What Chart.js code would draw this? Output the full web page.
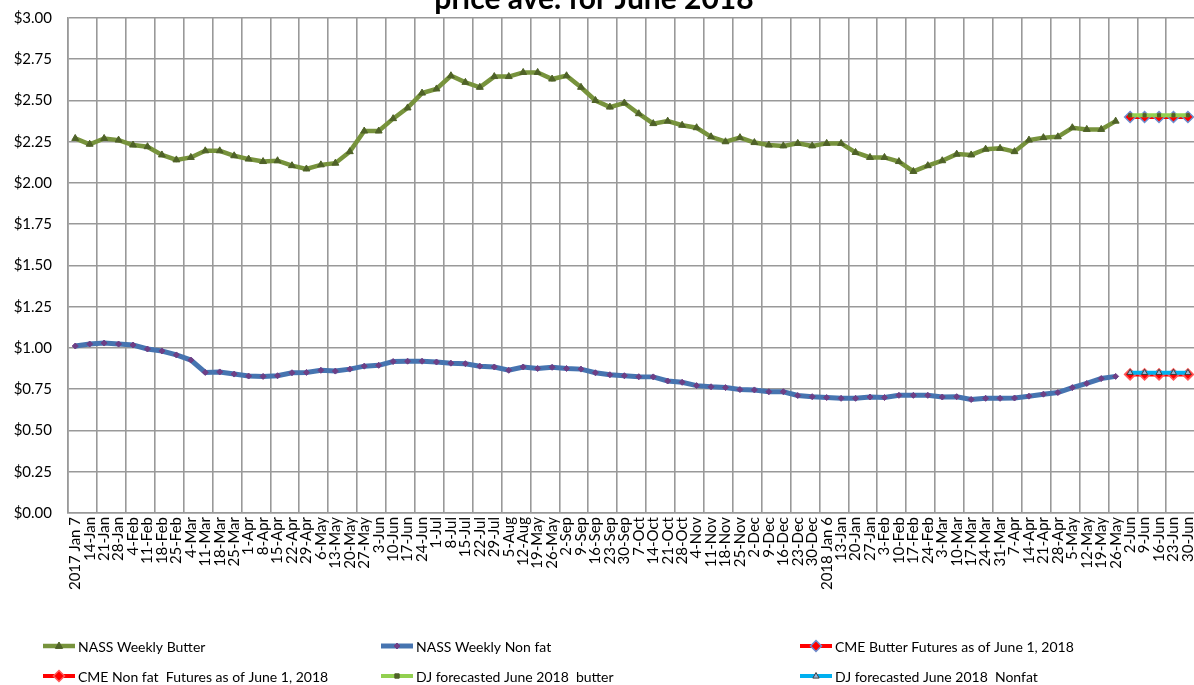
<!DOCTYPE html>
<html><head><meta charset="utf-8">
<script src="https://cdn.jsdelivr.net/npm/chart.js@4.4.1/dist/chart.umd.min.js"></script>
<style>
html,body{margin:0;padding:0;overflow:hidden;background:#fff;width:1194px;height:685px;}
#wrap{position:absolute;left:0;top:-30px;width:1210px;height:715px;}
</style></head><body>
<div id="wrap"><canvas id="c" width="1210" height="715"></canvas></div>
<script>
const categories = ['2017 Jan 7','14-Jan','21-Jan','28-Jan','4-Feb','11-Feb','18-Feb','25-Feb','4-Mar','11-Mar','18-Mar','25-Mar','1-Apr','8-Apr','15-Apr','22-Apr','29-Apr','6-May','13-May','20-May','27-May','3-Jun','10-Jun','17-Jun','24-Jun','1-Jul','8-Jul','15-Jul','22-Jul','29-Jul','5-Aug','12-Aug','19-May','26-May','2-Sep','9-Sep','16-Sep','23-Sep','30-Sep','7-Oct','14-Oct','21-Oct','28-Oct','4-Nov','11-Nov','18-Nov','25-Nov','2-Dec','9-Dec','16-Dec','23-Dec','30-Dec','2018 Jan 6','13-Jan','20-Jan','27-Jan','3-Feb','10-Feb','17-Feb','24-Feb','3-Mar','10-Mar','17-Mar','24-Mar','31-Mar','7-Apr','14-Apr','21-Apr','28-Apr','5-May','12-May','19-May','26-May','2-Jun','9-Jun','16-Jun','23-Jun','30-Jun'];

const nassButter = [2.27,2.235,2.27,2.26,2.23,2.22,2.17,2.14,2.155,2.195,2.195,2.165,2.145,2.13,2.135,2.105,2.085,2.11,2.12,2.19,2.315,2.315,2.39,2.455,2.545,2.57,2.65,2.61,2.58,2.645,2.645,2.67,2.67,2.63,2.65,2.58,2.50,2.46,2.485,2.42,2.36,2.375,2.35,2.335,2.28,2.25,2.275,2.245,2.23,2.225,2.24,2.225,2.24,2.24,2.185,2.155,2.155,2.13,2.07,2.105,2.135,2.175,2.17,2.205,2.21,2.19,2.26,2.275,2.28,2.335,2.325,2.325,2.375];

const nassNonfat = [1.012,1.024,1.03,1.024,1.018,0.994,0.982,0.958,0.927,0.852,0.855,0.842,0.83,0.828,0.832,0.85,0.852,0.865,0.86,0.872,0.89,0.895,0.918,0.92,0.92,0.915,0.908,0.905,0.89,0.885,0.865,0.885,0.876,0.883,0.876,0.872,0.85,0.838,0.832,0.826,0.825,0.80,0.792,0.772,0.765,0.76,0.748,0.746,0.735,0.735,0.712,0.705,0.70,0.695,0.695,0.703,0.7,0.713,0.713,0.713,0.703,0.705,0.688,0.695,0.695,0.697,0.708,0.72,0.73,0.76,0.785,0.815,0.828];

const cmeButter = [2.40,2.40,2.40,2.40,2.40];
const cmeNonfat = [0.84,0.84,0.84,0.84,0.84];
const djButter = [2.41,2.41,2.41,2.41,2.41];
const djNonfat = [0.85,0.85,0.85,0.85,0.85];

const yMin = 0, yMax = 3, yStep = 0.25;
const titleText = 'price ave. for June 2018';

const nulls = n => Array(n).fill(null);
const histLen = nassButter.length;
const futLen = cmeButter.length;

const OFF = 30; // canvas is shifted 30px up

const seriesStyle = [
  {label:'NASS Weekly Butter', color:'#77933C', width:4.5, point:'triangle', pr:4, pbg:'#4F6228', pbd:'#4F6228', pbw:1},
  {label:'NASS Weekly Non fat', color:'#4674B0', width:5, point:'rectRot', pr:3, pbg:'#6E3F86', pbd:'#6E3F86', pbw:1},
  {label:'CME Butter Futures as of June 1, 2018', color:'#FF0000', width:4, point:'rectRot', pr:5.5, pbg:'#FF0000', pbd:'#6C8FD0', pbw:1.5},
  {label:'CME Non fat  Futures as of June 1, 2018', color:'#FF0000', width:4, point:'rectRot', pr:5.5, pbg:'#FF0000', pbd:'#FF5A5A', pbw:1.5},
  {label:'DJ forecasted June 2018  butter', color:'#92D050', width:4, point:'rect', pr:2.2, pbg:'#4F6228', pbd:'#4F6228', pbw:1},
  {label:'DJ forecasted June 2018  Nonfat', color:'#00B0F0', width:4, point:'triangle', pr:3.5, pbg:'#9DB5D6', pbd:'#404040', pbw:1}
];
const seriesData = [
  nassButter.concat(nulls(futLen)),
  nassNonfat.concat(nulls(futLen)),
  nulls(histLen).concat(cmeButter),
  nulls(histLen).concat(cmeNonfat),
  nulls(histLen).concat(djButter),
  nulls(histLen).concat(djNonfat)
];
const orders = [2,2,1,1,0,0];

const datasets = seriesStyle.map((s,i)=>({
  label:s.label, data:seriesData[i], borderColor:s.color, backgroundColor:s.color,
  borderWidth:s.width, pointStyle:s.point, pointRadius:s.pr, pointHoverRadius:s.pr,
  pointBackgroundColor:s.pbg, pointBorderColor:s.pbd, pointBorderWidth:s.pbw,
  tension:0, spanGaps:false, order:orders[i]
}));

function drawMarker(ctx, style, r, x, y, bg, bd, bw){
  ctx.save();
  ctx.fillStyle = bg; ctx.strokeStyle = bd; ctx.lineWidth = bw;
  ctx.beginPath();
  if (style==='triangle'){
    ctx.moveTo(x, y - r); ctx.lineTo(x + r*0.9, y + r*0.6); ctx.lineTo(x - r*0.9, y + r*0.6);
  } else if (style==='rectRot'){
    ctx.moveTo(x, y-r); ctx.lineTo(x+r, y); ctx.lineTo(x, y+r); ctx.lineTo(x-r, y);
  } else if (style==='rect'){
    ctx.rect(x-r, y-r, 2*r, 2*r);
  } else {
    ctx.arc(x,y,r,0,Math.PI*2);
  }
  ctx.closePath(); ctx.fill(); ctx.stroke();
  ctx.restore();
}

const decor = {
  id:'decor',
  afterDraw(chart){
    const ctx = chart.ctx;
    ctx.save();
    ctx.fillStyle = '#000';
    ctx.font = 'bold 30px Lato';
    ctx.textAlign = 'center';
    ctx.textBaseline = 'alphabetic';
    ctx.fillText(titleText, 594, 9 + OFF);
    // legend
    const cols = [43, 381, 800];
    const rows = [646, 676];
    ctx.font = '14px Lato';
    ctx.textAlign = 'left';
    ctx.textBaseline = 'middle';
    seriesStyle.forEach((s,i)=>{
      const x = cols[i%3], y = rows[Math.floor(i/3)] + OFF;
      ctx.strokeStyle = s.color; ctx.lineWidth = s.width; ctx.lineCap='butt';
      ctx.beginPath(); ctx.moveTo(x, y); ctx.lineTo(x+32, y); ctx.stroke();
      drawMarker(ctx, s.point, s.pr, x+16, y, s.pbg, s.pbd, s.pbw);
      ctx.fillStyle = '#000';
      ctx.fillText(s.label, x+35, y+1);
    });
    ctx.restore();
  }
};

const gridColor = '#999999';
new Chart(document.getElementById('c'), {
  type:'line',
  data:{labels:categories, datasets},
  options:{
    responsive:false, animation:false, devicePixelRatio:1,
    layout:{padding:{left:8,right:12,top:48,bottom:82}},
    plugins:{legend:{display:false}, title:{display:false}, tooltip:{enabled:false}},
    scales:{
      x:{
        type:'category', offset:true,
        grid:{offset:true, drawTicks:false, lineWidth:1.6,
          color:(c)=> (c.index % 2 === 0) ? gridColor : 'rgba(0,0,0,0)'},
        border:{display:true, color:gridColor, width:1.6},
        ticks:{autoSkip:false, maxRotation:90, minRotation:90, padding:4,
          font:{family:'Lato', size:15}, color:'#000'},
        afterFit(s){ s.height = 90; }
      },
      y:{
        min:yMin, max:yMax,
        grid:{drawTicks:false, color:gridColor, lineWidth:1.6},
        border:{display:true, color:gridColor, width:1.6},
        ticks:{stepSize:yStep, padding:16, font:{family:'Lato', size:15}, color:'#000',
          callback:(v)=>'$' + Number(v).toFixed(2)},
        afterFit(s){ s.width = 60; }
      }
    }
  },
  plugins:[decor]
});
</script>
</body></html>
